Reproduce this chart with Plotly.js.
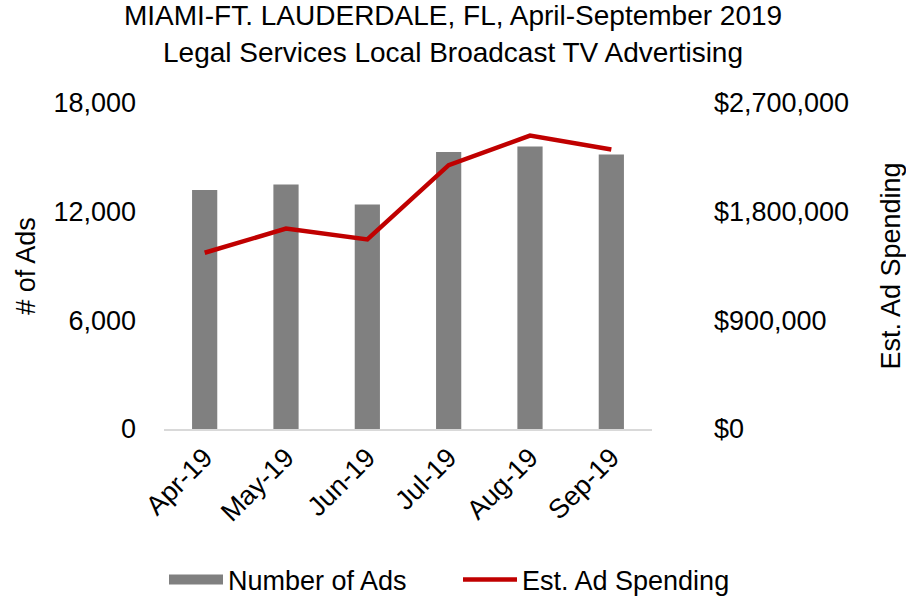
<!DOCTYPE html>
<html><head><meta charset="utf-8">
<script src="https://cdn.plot.ly/plotly-3.0.1.min.js"></script>
<style>body{margin:0;}#chart{width:906px;height:600px;}</style>
</head><body><div id="chart"></div>
<script>
const months = ["Apr-19","May-19","Jun-19","Jul-19","Aug-19","Sep-19"];
const numberOfAds = [13200, 13500, 12400, 15300, 15600, 15150];
const adSpending = [1460000, 1660000, 1570000, 2185000, 2430000, 2315000];
const leftTicks = [0, 6000, 12000, 18000];
const leftTickText = ["0", "6,000", "12,000", "18,000"];
const rightTicks = [0, 900000, 1800000, 2700000];
const rightTickText = ["$0", "$900,000", "$1,800,000", "$2,700,000"];

const font = {family: "Liberation Sans, Arial, sans-serif", color: "#000"};
const f = s => Object.assign({size: s}, font);
const barColor = "#808080";
const data = [
  {type: "bar", x: months, y: numberOfAds, name: "Number of Ads",
   marker: {color: barColor}, yaxis: "y", showlegend: false, legendgroup: "ads"},
  // legend swatch for the bars (draws nothing on the plot)
  {type: "scatter", mode: "lines", x: [months[0]], y: [null], name: "Number of Ads",
   line: {color: barColor, width: 16}, yaxis: "y", legendgroup: "ads", hoverinfo: "skip", legend: "legend"},
  {type: "scatter", mode: "lines", x: months, y: adSpending, name: "Est. Ad Spending",
   line: {color: "#C00000", width: 4.5}, yaxis: "y2", legend: "legend2"}
];
const legendBase = {orientation: "h", xref: "container", yref: "container", xanchor: "left",
  y: 0.0333, yanchor: "middle", font: f(27), itemwidth: 54, bgcolor: "rgba(0,0,0,0)"};
const layout = {
  width: 906, height: 600,
  margin: {l: 164, r: 254, t: 103, b: 171},
  paper_bgcolor: "#fff", plot_bgcolor: "#fff",
  font: f(27),
  bargap: 0.69,
  showlegend: true,
  title: {text: "MIAMI-FT. LAUDERDALE, FL, April-September 2019<br>Legal Services Local Broadcast TV Advertising",
          font: f(28), x: 0.5, xanchor: "center", xref: "container", yref: "container", y: 0.958, yanchor: "top", automargin: false},
  xaxis: {tickangle: -45, showline: true, linecolor: "#d9d9d9", linewidth: 2, automargin: false,
          showgrid: false, ticks: "", tickfont: f(27)},
  yaxis: {range: [0, 18000], tickvals: leftTicks, ticktext: leftTickText, showgrid: false,
          zeroline: false, showline: false, ticks: "", automargin: false, ticklabelstandoff: 27,
          tickfont: f(27),
          title: {text: "# of Ads", font: f(27), standoff: 9}},
  yaxis2: {range: [0, 2700000], tickvals: rightTicks, ticktext: rightTickText, overlaying: "y",
           side: "right", showgrid: false, zeroline: false, showline: false, ticks: "",
           automargin: false, ticklabelstandoff: 61,
           tickfont: f(27),
           title: {text: "Est. Ad Spending", font: f(27), standoff: 33}},
  legend: Object.assign({}, legendBase, {x: 164 / 906}),
  legend2: Object.assign({}, legendBase, {x: 458 / 906})
};
Plotly.newPlot("chart", data, layout, {displayModeBar: false});
</script></body></html>
